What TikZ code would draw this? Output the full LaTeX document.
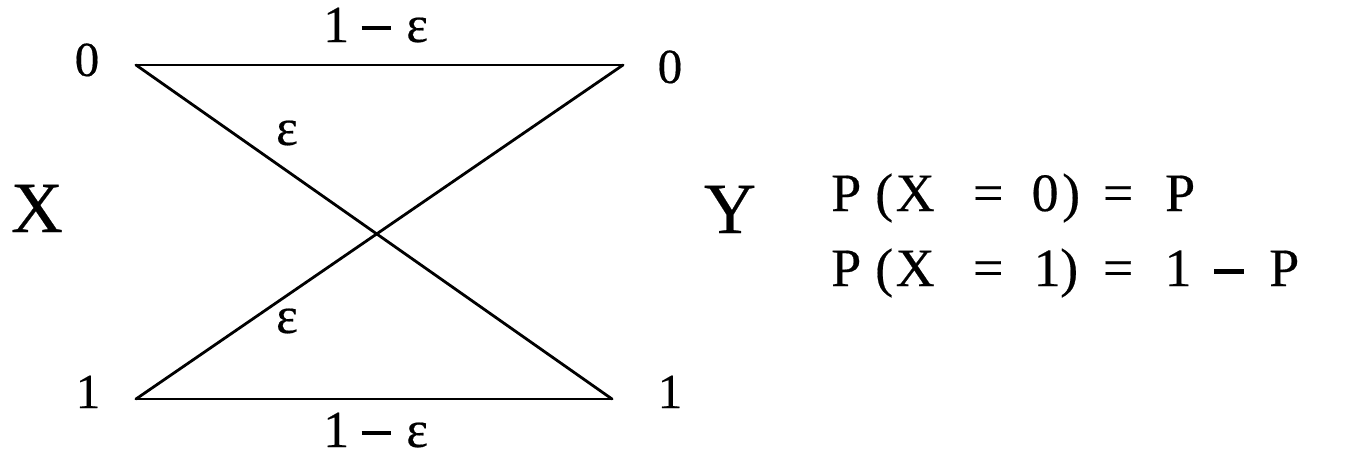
\documentclass[tikz,border=0pt]{standalone}
\usepackage{fontspec}
\setmainfont{Liberation Serif}[FakeBold=0.35]
\newcommand{\tokn}[2]{\makebox[0pt][c]{#2}\hspace{#1pt}}
\newcommand{\thickminus}{\rule[0.23em]{0.56em}{0.08em}}
\tikzset{
  chan/.style={line width=2.8pt, line cap=round, line join=round},
  dig/.style={font=\fontsize{49}{54}\selectfont, anchor=base, inner sep=0pt},
  lab/.style={font=\fontsize{52}{58}\selectfont, anchor=base, inner sep=0pt},
  var/.style={font=\fontsize{72}{78}\selectfont, anchor=base, inner sep=0pt},
  eqn/.style={font=\fontsize{54}{60}\selectfont, anchor=base west, inner sep=0pt}
}
\begin{document}
\begin{tikzpicture}[x=1pt,y=-1pt]
\useasboundingbox (0,0) rectangle (1361,458);
\coordinate (a0) at (136,65);
\coordinate (a1) at (136,399);
\coordinate (b0) at (623,65);
\coordinate (b1) at (612,399);
\draw[chan] (a0) -- (b0);
\draw[chan] (a1) -- (b1);
\draw[chan] (a0) -- (b1);
\draw[chan] (a1) -- (b0);
\node[dig] (la0) at (87,76) {0};
\node[dig] (la1) at (88,408) {1};
\node[dig] (lb0) at (670,83) {0};
\node[dig] (lb1) at (670,408) {1};
\node[var] (vx) at (37,232) {X};
\node[var] (vy) at (730,233) {Y};
\node[lab, anchor=base west] (ltop) at (336,42) {\tokn{40}{1}\tokn{41}{\thickminus}\tokn{0}{ε}};
\node[lab, anchor=base west] (lbot) at (336,447) {\tokn{40}{1}\tokn{41}{\thickminus}\tokn{0}{ε}};
\node[lab] (e1) at (287,145) {ε};
\node[lab] (e2) at (287,333) {ε};
\node[eqn] (p0) at (846,211) {\tokn{38}{P}\tokn{31}{(}\tokn{73}{X}\tokn{57}{=}\tokn{26}{0}\tokn{47}{)}\tokn{62}{=}\tokn{0}{P}};
\node[eqn] (p1) at (846,286) {\tokn{38}{P}\tokn{31}{(}\tokn{73}{X}\tokn{59}{=}\tokn{22}{1}\tokn{49}{)}\tokn{60}{=}\tokn{51}{1}\tokn{55}{\thickminus}\tokn{0}{P}};
\end{tikzpicture}
\end{document}
